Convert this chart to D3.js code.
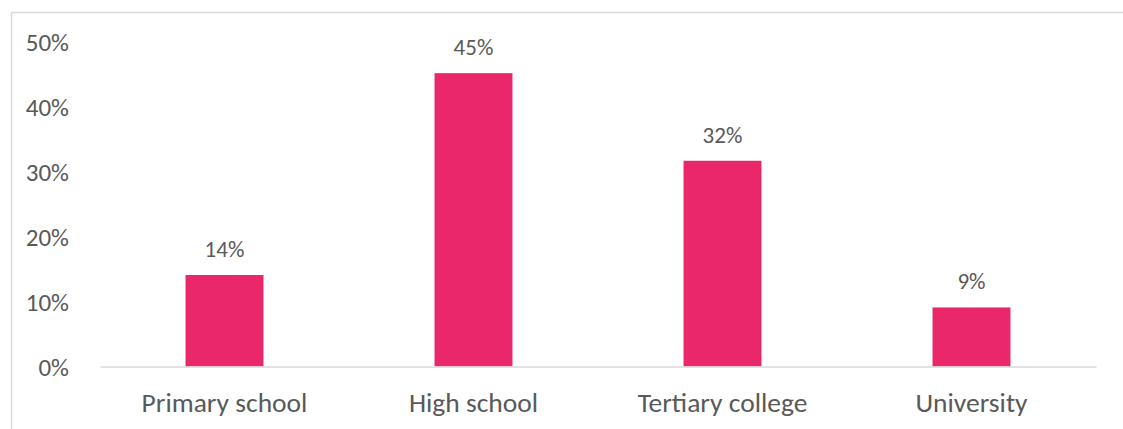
<!DOCTYPE html>
<html lang="en">
<head>
<meta charset="UTF-8">
<title>Education levels</title>
<script src="https://cdn.jsdelivr.net/npm/d3@7"></script>
<style>
  html, body { margin: 0; padding: 0; background: #fff; }
  svg { display: block; }
  text { font-family: Calibri, Carlito, Lato, "Open Sans", sans-serif; fill: #595959; }
</style>
</head>
<body>
<div id="chart"></div>
<script>
// values
const categories = ["Primary school", "High school", "Tertiary college", "University"];
const shares = [0.141, 0.452, 0.317, 0.091];
const yTicks = [0, 0.1, 0.2, 0.3, 0.4, 0.5];

const W = 1123, H = 429;
const svg = d3.select("#chart").append("svg")
  .attr("width", W)
  .attr("height", H);

// chart frame
svg.append("rect")
  .attr("x", 11.5).attr("y", 12.5)
  .attr("width", W + 10).attr("height", H + 10)
  .attr("fill", "none")
  .attr("stroke", "#d9d9d9")
  .attr("stroke-width", 1.5);

const x = d3.scaleBand()
  .domain(categories)
  .range([100, 1096])
  .paddingInner(0.687)
  .paddingOuter(0.3435);

const y = d3.scaleLinear()
  .domain([0, 0.5])
  .range([366.5, 42]);

// y axis labels (no line, no ticks)
const yAxis = svg.append("g")
  .attr("transform", "translate(69,0)")
  .call(d3.axisLeft(y).tickValues(yTicks).tickFormat(d3.format(".0%")).tickSize(0).tickPadding(0));
yAxis.select(".domain").remove();
yAxis.selectAll("text")
  .attr("font-family", null)
  .style("font-size", "25px")
  .attr("dy", "0.35em");

// bars
svg.selectAll("rect.bar")
  .data(shares)
  .enter().append("rect")
  .attr("class", "bar")
  .attr("x", (d, i) => x(categories[i]))
  .attr("y", d => y(d))
  .attr("width", x.bandwidth())
  .attr("height", d => y(0) - y(d))
  .attr("fill", "#e9276a");

// x axis
const xAxis = svg.append("g")
  .attr("transform", `translate(0,${y(0)})`)
  .call(d3.axisBottom(x).tickSize(0).tickPadding(26));
xAxis.select(".domain")
  .attr("stroke", "#d9d9d9")
  .attr("stroke-width", 1.5);
xAxis.selectAll("text")
  .attr("font-family", null)
  .style("font-size", "27.5px");

// data labels
svg.selectAll("text.lbl")
  .data(shares)
  .enter().append("text")
  .attr("class", "lbl")
  .attr("x", (d, i) => x(categories[i]) + x.bandwidth() / 2)
  .attr("y", d => y(d) - 18)
  .attr("text-anchor", "middle")
  .style("font-size", "23px")
  .text(d => d3.format(".0%")(d));
</script>
</body>
</html>
